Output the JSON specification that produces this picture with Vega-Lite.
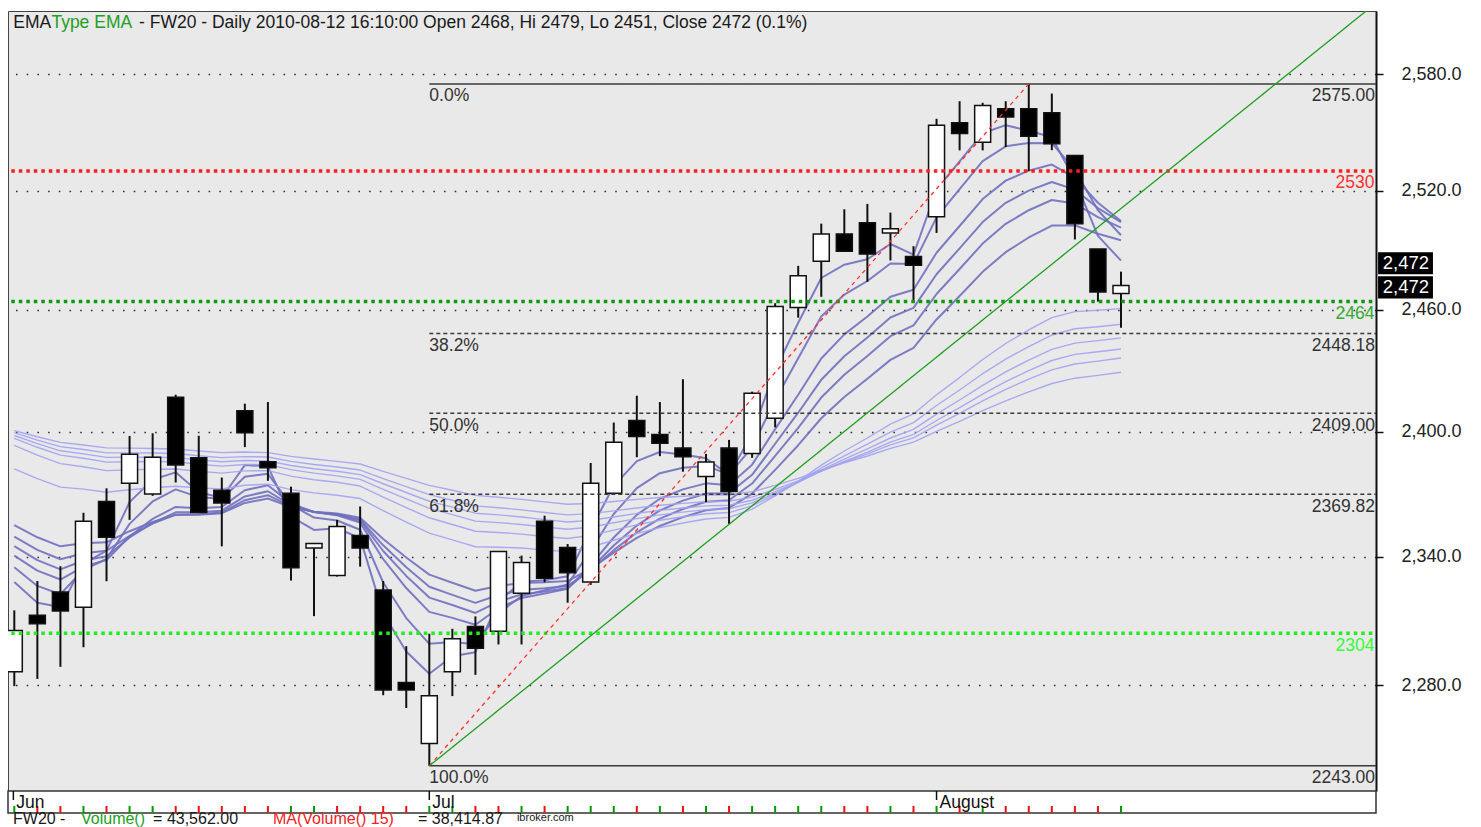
{
"$schema":"https://vega.github.io/schema/vega-lite/v6.json",
"padding":{"left":7,"top":10,"right":0,"bottom":0},
"background":"white",
"spacing":0,
"bounds":"flush",
"config":{"font":"Liberation Sans","text":{"font":"Liberation Sans"},"axis":{"labelFont":"Liberation Sans"}},
"resolve":{"scale":{"x":"independent","y":"independent","stroke":"independent","color":"independent","fill":"independent"}},
"datasets":{
"bars":[
{"i":0,"o":2286.1,"h":2314.7,"l":2279.5,"c":2305.3,"vd":"up","e03":2328,"e05":2335,"e08":2340.5,"e10":2345,"e12":2349.5,"e15":2355,"e30":2382,"e35":2393.3,"e40":2396.7,"e45":2398.1,"e50":2399.5,"e60":2400.5},
{"i":1,"o":2312.4,"h":2328.5,"l":2282.8,"c":2308.5,"vd":"down","e03":2318.3,"e05":2326.2,"e08":2333.4,"e10":2338.4,"e12":2343.2,"e15":2349.2,"e30":2377.3,"e35":2388.6,"e40":2392.4,"e45":2394.2,"e50":2395.9,"e60":2397.5},
{"i":2,"o":2323.3,"h":2335.5,"l":2288.4,"c":2314.4,"vd":"down","e03":2316.3,"e05":2322.3,"e08":2329.2,"e10":2334,"e12":2338.8,"e15":2344.9,"e30":2373.2,"e35":2384.5,"e40":2388.6,"e45":2390.7,"e50":2392.7,"e60":2394.8},
{"i":3,"o":2316.2,"h":2360.9,"l":2297.5,"c":2356.8,"vd":"up","e03":2336.6,"e05":2333.8,"e08":2335.3,"e10":2338.2,"e12":2341.6,"e15":2346.4,"e30":2372.2,"e35":2383,"e40":2387.1,"e45":2389.2,"e50":2391.3,"e60":2393.5},
{"i":4,"o":2366.3,"h":2372.6,"l":2328.4,"c":2349.2,"vd":"down","e03":2342.9,"e05":2338.9,"e08":2338.4,"e10":2340.2,"e12":2342.8,"e15":2346.8,"e30":2370.7,"e35":2381.1,"e40":2385.2,"e45":2387.5,"e50":2389.7,"e60":2392.1},
{"i":5,"o":2375.1,"h":2397.9,"l":2357.5,"c":2389,"vd":"up","e03":2366,"e05":2355.6,"e08":2349.6,"e10":2349.1,"e12":2349.9,"e15":2352.1,"e30":2371.9,"e35":2381.5,"e40":2385.4,"e45":2387.6,"e50":2389.7,"e60":2392},
{"i":6,"o":2369.9,"h":2399.2,"l":2369,"c":2387.6,"vd":"up","e03":2376.8,"e05":2366.3,"e08":2358,"e10":2356.1,"e12":2355.7,"e15":2356.5,"e30":2372.9,"e35":2381.8,"e40":2385.5,"e45":2387.6,"e50":2389.6,"e60":2391.8},
{"i":7,"o":2416.7,"h":2418,"l":2375.4,"c":2383.8,"vd":"down","e03":2380.3,"e05":2372.1,"e08":2363.7,"e10":2361.1,"e12":2360,"e15":2359.9,"e30":2373.6,"e35":2381.9,"e40":2385.4,"e45":2387.4,"e50":2389.4,"e60":2391.6},
{"i":8,"o":2387.3,"h":2398,"l":2361,"c":2361,"vd":"down","e03":2370.7,"e05":2368.4,"e08":2363.1,"e10":2361.1,"e12":2360.2,"e15":2360,"e30":2372.8,"e35":2380.8,"e40":2384.2,"e45":2386.3,"e50":2388.3,"e60":2390.6},
{"i":9,"o":2371.7,"h":2377.8,"l":2344.9,"c":2365.6,"vd":"down","e03":2368.1,"e05":2367.5,"e08":2363.7,"e10":2361.9,"e12":2361,"e15":2360.7,"e30":2372.3,"e35":2379.9,"e40":2383.3,"e45":2385.4,"e50":2387.4,"e60":2389.8},
{"i":10,"o":2410.2,"h":2413.6,"l":2392.5,"c":2399.5,"vd":"down","e03":2383.8,"e05":2378.2,"e08":2371.7,"e10":2368.7,"e12":2366.9,"e15":2365.6,"e30":2374.1,"e35":2381,"e40":2384.1,"e45":2386,"e50":2387.9,"e60":2390.1},
{"i":11,"o":2385.4,"h":2414.4,"l":2376.2,"c":2382.5,"vd":"down","e03":2383.2,"e05":2379.6,"e08":2374.1,"e10":2371.2,"e12":2369.3,"e15":2367.7,"e30":2374.6,"e35":2381.1,"e40":2384,"e45":2385.8,"e50":2387.7,"e60":2389.8},
{"i":12,"o":2370.2,"h":2373.4,"l":2328.7,"c":2334.8,"vd":"up","e03":2359,"e05":2364.7,"e08":2365.4,"e10":2364.6,"e12":2364,"e15":2363.6,"e30":2372,"e35":2378.5,"e40":2381.6,"e45":2383.6,"e50":2385.6,"e60":2388},
{"i":13,"o":2344.1,"h":2346.5,"l":2312,"c":2346.3,"vd":"up","e03":2352.7,"e05":2358.6,"e08":2361.2,"e10":2361.3,"e12":2361.3,"e15":2361.4,"e30":2370.4,"e35":2376.7,"e40":2379.9,"e45":2382,"e50":2384.1,"e60":2386.7},
{"i":14,"o":2331.1,"h":2357.5,"l":2330.6,"c":2354.4,"vd":"down","e03":2353.5,"e05":2357.2,"e08":2359.7,"e10":2360,"e12":2360.2,"e15":2360.5,"e30":2369.3,"e35":2375.5,"e40":2378.6,"e45":2380.8,"e50":2382.9,"e60":2385.6},
{"i":15,"o":2350.1,"h":2363.9,"l":2335.3,"c":2344.1,"vd":"down","e03":2348.8,"e05":2352.8,"e08":2356.2,"e10":2357.1,"e12":2357.7,"e15":2358.5,"e30":2367.7,"e35":2373.7,"e40":2376.9,"e45":2379.2,"e50":2381.4,"e60":2384.3},
{"i":16,"o":2324.3,"h":2328.5,"l":2275.3,"c":2277.7,"vd":"down","e03":2313.2,"e05":2327.8,"e08":2338.8,"e10":2342.7,"e12":2345.4,"e15":2348.4,"e30":2361.9,"e35":2368.4,"e40":2372.1,"e45":2374.8,"e50":2377.3,"e60":2380.8},
{"i":17,"o":2281.1,"h":2298,"l":2269.4,"c":2277.7,"vd":"down","e03":2295.5,"e05":2311.1,"e08":2325.2,"e10":2330.9,"e12":2335,"e15":2339.6,"e30":2356.4,"e35":2363.4,"e40":2367.5,"e45":2370.6,"e50":2373.4,"e60":2377.4},
{"i":18,"o":2253.2,"h":2303.8,"l":2243,"c":2275,"vd":"up","e03":2285.2,"e05":2299.1,"e08":2314,"e10":2320.7,"e12":2325.8,"e15":2331.5,"e30":2351.2,"e35":2358.5,"e40":2363,"e45":2366.4,"e50":2369.6,"e60":2374},
{"i":19,"o":2286.1,"h":2306.1,"l":2274.9,"c":2301.4,"vd":"up","e03":2293.3,"e05":2299.9,"e08":2311.2,"e10":2317.2,"e12":2322,"e15":2327.7,"e30":2348,"e35":2355.3,"e40":2360,"e45":2363.6,"e50":2366.9,"e60":2371.7},
{"i":20,"o":2307.2,"h":2311.9,"l":2284.7,"c":2297,"vd":"down","e03":2295.2,"e05":2298.9,"e08":2308,"e10":2313.5,"e12":2318.2,"e15":2323.9,"e30":2344.7,"e35":2352.1,"e40":2356.9,"e45":2360.7,"e50":2364.2,"e60":2369.2},
{"i":21,"o":2304.9,"h":2342.5,"l":2298.8,"c":2342.5,"vd":"down","e03":2318.8,"e05":2313.4,"e08":2315.7,"e10":2318.8,"e12":2321.9,"e15":2326.2,"e30":2344.5,"e35":2351.5,"e40":2356.2,"e45":2359.9,"e50":2363.3,"e60":2368.3},
{"i":22,"o":2322.8,"h":2340.5,"l":2298.8,"c":2337.3,"vd":"up","e03":2328.1,"e05":2321.4,"e08":2320.5,"e10":2322.2,"e12":2324.3,"e15":2327.6,"e30":2344.1,"e35":2350.7,"e40":2355.3,"e45":2358.9,"e50":2362.3,"e60":2367.3},
{"i":23,"o":2356.8,"h":2359.5,"l":2327.9,"c":2329.8,"vd":"down","e03":2328.9,"e05":2324.2,"e08":2322.6,"e10":2323.6,"e12":2325.1,"e15":2327.9,"e30":2343.1,"e35":2349.6,"e40":2354.1,"e45":2357.6,"e50":2361,"e60":2366.1},
{"i":24,"o":2344.4,"h":2346,"l":2318.3,"c":2332.4,"vd":"up","e03":2330.7,"e05":2326.9,"e08":2324.8,"e10":2325.2,"e12":2326.2,"e15":2328.5,"e30":2342.4,"e35":2348.6,"e40":2353,"e45":2356.5,"e50":2359.9,"e60":2365},
{"i":25,"o":2328,"h":2384.8,"l":2326.7,"c":2375.1,"vd":"up","e03":2352.9,"e05":2343,"e08":2336,"e10":2334.3,"e12":2333.7,"e15":2334.3,"e30":2344.6,"e35":2350.1,"e40":2354.1,"e45":2357.3,"e50":2360.5,"e60":2365.3},
{"i":26,"o":2370.2,"h":2404.4,"l":2369.5,"c":2394.8,"vd":"up","e03":2373.8,"e05":2360.3,"e08":2349.1,"e10":2345.3,"e12":2343.1,"e15":2341.9,"e30":2347.8,"e35":2352.6,"e40":2356.1,"e45":2358.9,"e50":2361.8,"e60":2366.3},
{"i":27,"o":2405.4,"h":2417.5,"l":2387.6,"c":2397.6,"vd":"down","e03":2385.7,"e05":2372.7,"e08":2359.9,"e10":2354.8,"e12":2351.5,"e15":2348.9,"e30":2351,"e35":2355.1,"e40":2358.1,"e45":2360.6,"e50":2363.2,"e60":2367.3},
{"i":28,"o":2398.6,"h":2414.4,"l":2388.1,"c":2394.4,"vd":"up","e03":2390.1,"e05":2379.9,"e08":2367.6,"e10":2362,"e12":2358.1,"e15":2354.6,"e30":2353.8,"e35":2357.3,"e40":2359.9,"e45":2362.1,"e50":2364.5,"e60":2368.2},
{"i":29,"o":2392,"h":2425.6,"l":2380.6,"c":2387.8,"vd":"down","e03":2388.9,"e05":2382.5,"e08":2372.1,"e10":2366.7,"e12":2362.7,"e15":2358.8,"e30":2356,"e35":2359,"e40":2361.2,"e45":2363.2,"e50":2365.4,"e60":2368.8},
{"i":30,"o":2378.3,"h":2389.2,"l":2366,"c":2385.3,"vd":"up","e03":2387.1,"e05":2383.4,"e08":2375,"e10":2370.1,"e12":2366.2,"e15":2362.1,"e30":2357.9,"e35":2360.4,"e40":2362.4,"e45":2364.2,"e50":2366.2,"e60":2369.4},
{"i":31,"o":2392,"h":2396,"l":2355.6,"c":2371.1,"vd":"down","e03":2379.1,"e05":2379.3,"e08":2374.1,"e10":2370.3,"e12":2366.9,"e15":2363.2,"e30":2358.7,"e35":2361,"e40":2362.8,"e45":2364.5,"e50":2366.4,"e60":2369.4},
{"i":32,"o":2389.4,"h":2419.5,"l":2387.3,"c":2418.7,"vd":"up","e03":2398.9,"e05":2392.4,"e08":2384,"e10":2379.1,"e12":2374.9,"e15":2370.1,"e30":2362.6,"e35":2364.2,"e40":2365.6,"e45":2366.9,"e50":2368.4,"e60":2371},
{"i":33,"o":2406.5,"h":2463.2,"l":2402.1,"c":2461.5,"vd":"up","e03":2430.2,"e05":2415.4,"e08":2401.2,"e10":2394.1,"e12":2388.2,"e15":2381.5,"e30":2369,"e35":2369.6,"e40":2370.2,"e45":2371,"e50":2372.1,"e60":2374},
{"i":34,"o":2461.1,"h":2481.9,"l":2456,"c":2476.9,"vd":"up","e03":2453.5,"e05":2435.9,"e08":2418,"e10":2409.2,"e12":2401.8,"e15":2393.4,"e30":2376,"e35":2375.6,"e40":2375.5,"e45":2375.6,"e50":2376.2,"e60":2377.4},
{"i":35,"o":2484.2,"h":2503.2,"l":2466.4,"c":2498,"vd":"up","e03":2475.8,"e05":2456.6,"e08":2435.8,"e10":2425.3,"e12":2416.6,"e15":2406.5,"e30":2383.8,"e35":2382.4,"e40":2381.4,"e45":2380.9,"e50":2380.9,"e60":2381.3},
{"i":36,"o":2498,"h":2510.5,"l":2489,"c":2489.3,"vd":"down","e03":2482.5,"e05":2467.5,"e08":2447.7,"e10":2436.9,"e12":2427.8,"e15":2416.9,"e30":2390.6,"e35":2388.3,"e40":2386.7,"e45":2385.6,"e50":2385.2,"e60":2384.9},
{"i":37,"o":2503.7,"h":2513.2,"l":2473.9,"c":2487.8,"vd":"down","e03":2485.2,"e05":2474.3,"e08":2456.6,"e10":2446.2,"e12":2437,"e15":2425.8,"e30":2396.9,"e35":2393.9,"e40":2391.6,"e45":2390.1,"e50":2389.2,"e60":2388.2},
{"i":38,"o":2498.4,"h":2508.8,"l":2484.6,"c":2500.6,"vd":"up","e03":2492.9,"e05":2483.1,"e08":2466.4,"e10":2456.1,"e12":2446.8,"e15":2435.1,"e30":2403.6,"e35":2399.8,"e40":2396.9,"e45":2394.9,"e50":2393.6,"e60":2391.9},
{"i":39,"o":2486.6,"h":2491.8,"l":2463.4,"c":2482.2,"vd":"down","e03":2487.5,"e05":2482.8,"e08":2469.9,"e10":2460.9,"e12":2452.2,"e15":2441,"e30":2408.6,"e35":2404.4,"e40":2401.1,"e45":2398.7,"e50":2397,"e60":2394.9},
{"i":40,"o":2506.7,"h":2556.9,"l":2498.5,"c":2553.6,"vd":"up","e03":2520.6,"e05":2506.4,"e08":2488.5,"e10":2477.7,"e12":2467.8,"e15":2455.1,"e30":2418,"e35":2412.7,"e40":2408.5,"e45":2405.4,"e50":2403.2,"e60":2400.1},
{"i":41,"o":2554.8,"h":2566,"l":2540.6,"c":2549.3,"vd":"down","e03":2535,"e05":2520.7,"e08":2502,"e10":2490.7,"e12":2480.3,"e15":2466.8,"e30":2426.4,"e35":2420.3,"e40":2415.4,"e45":2411.7,"e50":2408.9,"e60":2405},
{"i":42,"o":2544.8,"h":2565.2,"l":2540.6,"c":2563.8,"vd":"up","e03":2549.4,"e05":2535.1,"e08":2515.7,"e10":2504,"e12":2493.1,"e15":2478.9,"e30":2435.3,"e35":2428.3,"e40":2422.6,"e45":2418.3,"e50":2415,"e60":2410.2},
{"i":43,"o":2562.1,"h":2566,"l":2542.3,"c":2557.8,"vd":"down","e03":2553.6,"e05":2542.7,"e08":2525.1,"e10":2513.8,"e12":2503.1,"e15":2488.8,"e30":2443.2,"e35":2435.5,"e40":2429.2,"e45":2424.4,"e50":2420.6,"e60":2415},
{"i":44,"o":2562.1,"h":2575,"l":2530,"c":2547.9,"vd":"down","e03":2550.7,"e05":2544.4,"e08":2530.2,"e10":2520,"e12":2510,"e15":2496.2,"e30":2449.9,"e35":2441.7,"e40":2435,"e45":2429.8,"e50":2425.6,"e60":2419.4},
{"i":45,"o":2560,"h":2570,"l":2540.7,"c":2544,"vd":"down","e03":2547.4,"e05":2544.3,"e08":2533.3,"e10":2524.4,"e12":2515.2,"e15":2502.2,"e30":2456,"e35":2447.4,"e40":2440.3,"e45":2434.8,"e50":2430.2,"e60":2423.5},
{"i":46,"o":2538,"h":2538,"l":2495.2,"c":2503.2,"vd":"down","e03":2525.3,"e05":2530.6,"e08":2526.6,"e10":2520.5,"e12":2513.4,"e15":2502.3,"e30":2459,"e35":2450.5,"e40":2443.4,"e45":2437.8,"e50":2433.1,"e60":2426.1},
{"i":47,"o":2490.4,"h":2490.4,"l":2464,"c":2468.8,"vd":"down","e03":2497,"e05":2510,"e08":2513.8,"e10":2511.1,"e12":2506.5,"e15":2498.1,"e30":2459.7,"e35":2451.5,"e40":2444.6,"e45":2439.1,"e50":2434.5,"e60":2427.5},
{"i":48,"o":2468,"h":2479,"l":2451,"c":2472,"vd":"up","e03":2484.5,"e05":2497.3,"e08":2504.5,"e10":2504,"e12":2501.2,"e15":2494.8,"e30":2460.5,"e35":2452.7,"e40":2446,"e45":2440.5,"e50":2436,"e60":2429}
],
"fib":[{"pct":"0.0%","p":2575,"solid":true},{"pct":"38.2%","p":2448.18,"solid":false},{"pct":"50.0%","p":2409,"solid":false},{"pct":"61.8%","p":2369.82,"solid":false},{"pct":"100.0%","p":2243,"solid":true}],
"levels":[{"p":2530,"kind":"resistance"},{"p":2464,"kind":"support1"},{"p":2304,"kind":"support2"}],
"diag":[{"line":"fib","i":18,"p":2243},{"line":"fib","i":44,"p":2575},{"line":"trend","i":18,"p":2243},{"line":"trend","i":59.06,"p":2617.5}],
"months":[{"m":"Jun","i":-0.04},{"m":"Jul","i":18},{"m":"August","i":40}]
},
"vconcat":[
{
"width":1368,"height":780,
"view":{"fill":"#e9e9e9","stroke":"#444","strokeWidth":1},
"resolve":{"scale":{"color":"independent","stroke":"independent","fill":"independent"}},
"layer":[
{"data":{"name":"bars"},
 "transform":[{"fold":["e03","e05","e08","e10","e12","e15","e30","e35","e40","e45","e50","e60"],"as":["ema","v"]}],
 "mark":{"type":"line","strokeJoin":"round","opacity":0.9,"clip":true},
 "encoding":{
  "x":{"field":"i","type":"quantitative","scale":{"domain":[-0.273,59.06],"nice":false,"zero":false,"padding":0},"axis":null},
  "y":{"field":"v","type":"quantitative","scale":{"type":"log","domain":[2231.6,2613.3],"nice":false,"padding":0},
       "axis":{"orient":"right","values":[2280,2340,2400,2460,2520,2580],"format":",.1f","title":null,"labelFontSize":18,"labelColor":"#222","labelPadding":18,"tickSize":7,"tickColor":"#111","tickWidth":1.5,"domainColor":"#111","domainWidth":2,"grid":true,"gridColor":"#333","gridDash":[1.6,9.1],"gridWidth":1.3,"labelFlush":false}},
  "color":{"field":"ema","type":"nominal","scale":{"domain":["e03","e05","e08","e10","e12","e15","e30","e35","e40","e45","e50","e60"],"range":["#7070c0","#7070c0","#7070c0","#7070c0","#7070c0","#7070c0","#a2a2f2","#a2a2f2","#a2a2f2","#a2a2f2","#a2a2f2","#a2a2f2"]},"legend":null},
  "strokeWidth":{"condition":{"test":"indexof(['e30','e35','e40','e45','e50','e60'], datum.ema) >= 0","value":1.4},"value":2}
 }},
{"data":{"name":"bars"},
 "mark":{"type":"rule","color":"#111","strokeWidth":2,"clip":true},
 "encoding":{"x":{"field":"i","type":"quantitative"},"y":{"field":"l","type":"quantitative","scale":{"type":"log","domain":[2231.6,2613.3],"nice":false}},"y2":{"field":"h"}}},
{"data":{"name":"bars"},
 "mark":{"type":"bar","size":16,"orient":"vertical","stroke":"#111","strokeWidth":1.5,"clip":true},
 "encoding":{"x":{"field":"i","type":"quantitative"},"y":{"field":"o","type":"quantitative","scale":{"type":"log","domain":[2231.6,2613.3],"nice":false}},"y2":{"field":"c"},
  "fill":{"condition":{"test":"datum.c > datum.o","value":"#ffffff"},"value":"#000000"}}},
{"data":{"name":"fib"},
 "mark":{"type":"rule","strokeWidth":1.5,"color":"#3a3a3a"},
 "encoding":{"x":{"datum":18,"type":"quantitative"},"x2":{"datum":59.06},"y":{"field":"p","type":"quantitative"},
  "strokeDash":{"condition":{"test":"datum.solid","value":[1,0]},"value":[4,3]}}},
{"data":{"name":"fib"},
 "mark":{"type":"text","align":"left","baseline":"alphabetic","dy":17.5,"fontSize":17.5,"color":"#333"},
 "encoding":{"x":{"datum":18,"type":"quantitative"},"y":{"field":"p","type":"quantitative"},"text":{"field":"pct"}}},
{"data":{"name":"fib"},
 "mark":{"type":"text","align":"right","baseline":"alphabetic","dy":17.5,"dx":-1,"fontSize":17.5,"color":"#333"},
 "encoding":{"x":{"datum":59.06,"type":"quantitative"},"y":{"field":"p","type":"quantitative"},"text":{"field":"p","format":".2f"}}},
{"data":{"name":"levels"},
 "mark":{"type":"rule","strokeWidth":3.5,"strokeDash":[3.5,4],"strokeCap":"butt"},
 "encoding":{"x":{"datum":-0.13,"type":"quantitative"},"x2":{"datum":58.93},"y":{"field":"p","type":"quantitative"},
  "stroke":{"field":"kind","type":"nominal","scale":{"domain":["resistance","support1","support2"],"range":["#ff1e1e","#0a9a0a","#1ef01e"]},"legend":null}}},
{"data":{"name":"levels"},
 "mark":{"type":"text","align":"right","baseline":"alphabetic","dy":17.4,"dx":-1.5,"fontSize":17.5},
 "encoding":{"x":{"datum":59.06,"type":"quantitative"},"y":{"field":"p","type":"quantitative"},"text":{"field":"p"},
  "fill":{"field":"kind","type":"nominal","scale":{"domain":["resistance","support1","support2"],"range":["#ff3030","#33aa33","#33ff33"]},"legend":null}}},
{"data":{"name":"diag"},
 "mark":{"type":"line","strokeWidth":1.3,"clip":true},
 "encoding":{"x":{"field":"i","type":"quantitative"},"y":{"field":"p","type":"quantitative"},"detail":{"field":"line"},
  "stroke":{"condition":{"test":"datum.line == 'fib'","value":"#ff3030"},"value":"#1f9f1f"},
  "strokeDash":{"condition":{"test":"datum.line == 'fib'","value":[4,4]},"value":[1,0]}}},
{"data":{"values":[{}]},
 "mark":{"type":"text","text":"EMA","align":"left","baseline":"alphabetic","fontSize":17.5,"color":"#1a1a1a"},
 "encoding":{"x":{"datum":-0.04,"type":"quantitative"},"y":{"datum":2604.3,"type":"quantitative"}}},
{"data":{"values":[{}]},
 "mark":{"type":"text","text":"Type EMA","align":"left","baseline":"alphabetic","fontSize":17.5,"color":"#22a022"},
 "encoding":{"x":{"datum":1.61,"type":"quantitative"},"y":{"datum":2604.3,"type":"quantitative"}}},
{"data":{"values":[{}]},
 "mark":{"type":"text","text":"- FW20 - Daily 2010-08-12 16:10:00 Open 2468, Hi 2479, Lo 2451, Close 2472 (0.1%)","align":"left","baseline":"alphabetic","fontSize":17.5,"color":"#1a1a1a"},
 "encoding":{"x":{"datum":5.41,"type":"quantitative"},"y":{"datum":2604.3,"type":"quantitative"}}},
{"data":{"values":[{}]},
 "mark":{"type":"rect","fill":"#000000"},
 "encoding":{"x":{"datum":59.15,"type":"quantitative"},"x2":{"datum":61.53},"y":{"datum":2488.8,"type":"quantitative"},"y2":{"datum":2477.7}}},
{"data":{"values":[{}]},
 "mark":{"type":"rect","fill":"#000000"},
 "encoding":{"x":{"datum":59.15,"type":"quantitative"},"x2":{"datum":61.53},"y":{"datum":2476.7,"type":"quantitative"},"y2":{"datum":2465.6}}},
{"data":{"values":[{}]},
 "mark":{"type":"text","text":"2,472","align":"center","baseline":"middle","fontSize":18.5,"color":"#ffffff"},
 "encoding":{"x":{"datum":60.36,"type":"quantitative"},"y":{"datum":2483.2,"type":"quantitative"}}},
{"data":{"values":[{}]},
 "mark":{"type":"text","text":"2,472","align":"center","baseline":"middle","fontSize":18.5,"color":"#ffffff"},
 "encoding":{"x":{"datum":60.36,"type":"quantitative"},"y":{"datum":2471.3,"type":"quantitative"}}}
]
},
{
"width":1368,"height":22,
"view":{"fill":"#ffffff","stroke":"#333","strokeWidth":1.5},
"layer":[
{"data":{"name":"bars"},
 "mark":{"type":"rule","strokeWidth":2},
 "encoding":{"x":{"field":"i","type":"quantitative","scale":{"domain":[-0.273,59.06],"nice":false,"zero":false,"padding":0},"axis":null},
  "y":{"datum":0,"type":"quantitative","scale":{"domain":[0,1],"nice":false,"zero":false},"axis":null},"y2":{"datum":0.32},
  "stroke":{"field":"vd","type":"nominal","scale":{"domain":["up","down"],"range":["#009a00","#ee1111"]},"legend":null}}},
{"data":{"name":"months"},
 "mark":{"type":"rule","color":"#111","strokeWidth":1.5},
 "encoding":{"x":{"field":"i","type":"quantitative"},"y":{"datum":0.59,"type":"quantitative"},"y2":{"datum":1}}},
{"data":{"name":"months"},
 "mark":{"type":"text","align":"left","baseline":"alphabetic","dx":3,"fontSize":17.5,"color":"#111"},
 "encoding":{"x":{"field":"i","type":"quantitative"},"y":{"datum":0.23,"type":"quantitative"},"text":{"field":"m"}}},
{"data":{"values":[{}]},
 "mark":{"type":"text","text":"FW20 -","align":"left","baseline":"alphabetic","fontSize":16,"color":"#1a1a1a"},
 "encoding":{"x":{"datum":-0.056,"type":"quantitative"},"y":{"datum":-0.5,"type":"quantitative"}}},
{"data":{"values":[{}]},
 "mark":{"type":"text","text":"Volume()","align":"left","baseline":"alphabetic","fontSize":16,"color":"#22a022"},
 "encoding":{"x":{"datum":2.893,"type":"quantitative"},"y":{"datum":-0.5,"type":"quantitative"}}},
{"data":{"values":[{}]},
 "mark":{"type":"text","text":"= 43,562.00","align":"left","baseline":"alphabetic","fontSize":16,"color":"#1a1a1a"},
 "encoding":{"x":{"datum":6.02,"type":"quantitative"},"y":{"datum":-0.5,"type":"quantitative"}}},
{"data":{"values":[{}]},
 "mark":{"type":"text","text":"MA(Volume() 15)","align":"left","baseline":"alphabetic","fontSize":16,"color":"#ee2222"},
 "encoding":{"x":{"datum":11.22,"type":"quantitative"},"y":{"datum":-0.5,"type":"quantitative"}}},
{"data":{"values":[{}]},
 "mark":{"type":"text","text":"= 38,414.87","align":"left","baseline":"alphabetic","fontSize":16,"color":"#1a1a1a"},
 "encoding":{"x":{"datum":17.51,"type":"quantitative"},"y":{"datum":-0.5,"type":"quantitative"}}},
{"data":{"values":[{}]},
 "mark":{"type":"text","text":"ibroker.com","align":"left","baseline":"alphabetic","fontSize":11,"color":"#1a1a1a"},
 "encoding":{"x":{"datum":21.8,"type":"quantitative"},"y":{"datum":-0.36,"type":"quantitative"}}}
]
}
]
}
